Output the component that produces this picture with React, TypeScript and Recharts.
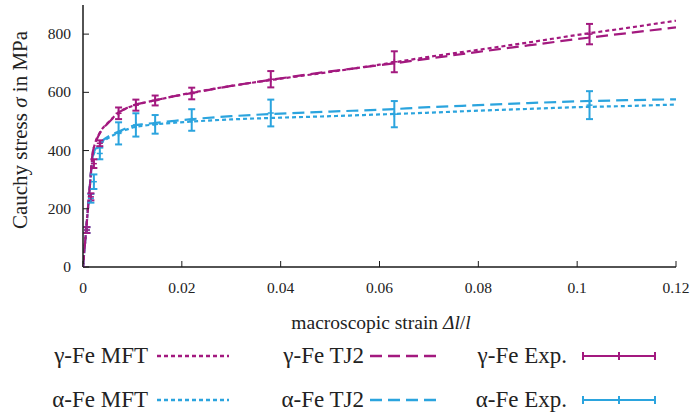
import React from "react";
import { ComposedChart, Line, Scatter, ErrorBar, XAxis, YAxis } from "recharts";

// simulated curves (strain grid shared by all four)
const strain = [
  0, 0.0005, 0.001, 0.0015, 0.0019, 0.0025, 0.0032, 0.004, 0.005, 0.006, 0.007, 0.0085,
  0.0103, 0.0125, 0.0147, 0.018, 0.0215, 0.03, 0.04, 0.05, 0.06, 0.07, 0.08, 0.09, 0.1,
  0.11, 0.12,
];
const gammaMFT = [
  0, 100, 200, 300, 380, 428, 455, 477, 495, 512, 528, 543, 555, 565, 573, 585, 597, 622,
  647, 670, 695, 722, 746, 771, 797, 821, 846,
];
const gammaTJ2 = [
  0, 100, 200, 300, 385, 425, 453, 475, 493, 510, 528, 543, 556, 565, 573, 585, 596, 622,
  648, 672, 693, 716, 739, 761, 783, 803, 823,
];
const alphaMFT = [
  0, 100, 200, 300, 370, 400, 415, 430, 442, 452, 460, 470, 480, 486, 490, 495, 499, 507,
  513, 518, 524, 530, 537, 543, 549, 553, 558,
];
const alphaTJ2 = [
  0, 100, 200, 300, 375, 405, 420, 435, 447, 456, 464, 475, 486, 491, 495, 501, 507, 518,
  527, 534, 540, 549, 556, 563, 569, 573, 576,
];

// experiments
const expStrain = [0, 0.0008, 0.0016, 0.0022, 0.0034, 0.0072, 0.0107, 0.0146, 0.022, 0.038, 0.063, 0.1025];
const gammaExp = [0, 127, 241, 355, 425, 528, 556, 572, 596, 645, 705, 800];
const gammaErr = [0, 10, 12, 15, 10, 20, 19, 17, 20, 28, 36, 35];
const alphaExp = [0, 127, 236, 293, 390, 459, 488, 490, 505, 529, 525, 556];
const alphaErr = [0, 10, 15, 25, 20, 38, 40, 32, 37, 46, 45, 48];

const xTicks = [0, 0.02, 0.04, 0.06, 0.08, 0.1, 0.12];
const yTicks = [0, 200, 400, 600, 800];

const W = 691;
const H = 414;
const LEFT = 83;
const RIGHT = 676;
const TOP = 5;
const BOTTOM = 267;

const PURPLE = "#a3197f";
const BLUE = "#2ba4de";
const AXIS = "#1a1a1a";
const FONT = "Liberation Serif";

const DOTTED = "4 3";
const DASHED = "12 6";

const curve = (ys: number[]) => strain.map((x, i) => ({ x, y: ys[i] }));
const exp = (ys: number[], es: number[]) =>
  expStrain.map((x, i) => ({ x, y: ys[i], err: es[i] }));

const BottomTick = (p: any) => (
  <g>
    <line x1={p.x} x2={p.x} y1={BOTTOM} y2={BOTTOM - 6} stroke={AXIS} />
    <text x={p.x} y={BOTTOM + 26} textAnchor="middle" fontFamily={FONT} fontSize={15.5} fill="#222">
      {p.payload.value}
    </text>
  </g>
);
const TopTick = (p: any) => (
  <line x1={p.x} x2={p.x} y1={TOP} y2={TOP + 6} stroke={AXIS} />
);
const LeftTick = (p: any) => (
  <g>
    <line x1={LEFT} x2={LEFT + 6} y1={p.y} y2={p.y} stroke={AXIS} />
    <text x={LEFT - 12} y={p.y + 5} textAnchor="end" fontFamily={FONT} fontSize={15.5} fill="#222">
      {p.payload.value}
    </text>
  </g>
);
const RightTick = (p: any) => (
  <line x1={RIGHT} x2={RIGHT - 6} y1={p.y} y2={p.y} stroke={AXIS} />
);

const plus = (color: string) => (p: any) => (
  <g stroke={color} strokeWidth={1.5}>
    <line x1={p.cx - 3} x2={p.cx + 3} y1={p.cy} y2={p.cy} />
    <line x1={p.cx} x2={p.cx} y1={p.cy - 3} y2={p.cy + 3} />
  </g>
);

function Sample({ kind, color }: { kind: string; color: string }) {
  return (
    <svg width={76} height={12} style={{ display: "block" }}>
      {kind === "bar" ? (
        <g stroke={color} strokeWidth={2}>
          <line x1={1} x2={73} y1={6} y2={6} />
          <line x1={1} x2={1} y1={2} y2={10} />
          <line x1={37} x2={37} y1={2} y2={10} />
          <line x1={73} x2={73} y1={2} y2={10} />
        </g>
      ) : (
        <line
          x1={0}
          x2={72}
          y1={6}
          y2={6}
          stroke={color}
          strokeWidth={2.5}
          strokeDasharray={kind === "dot" ? DOTTED : DASHED}
        />
      )}
    </svg>
  );
}

const legendCols = [
  { textEnd: 148, sample: 157, kind: "dot", label: "MFT" },
  { textEnd: 364, sample: 370, kind: "dash", label: "TJ2" },
  { textEnd: 567, sample: 582, kind: "bar", label: "Exp." },
];
const legendRows = [
  { y: 356, name: "γ-Fe", color: PURPLE },
  { y: 400, name: "α-Fe", color: BLUE },
];

export default function App() {
  return (
    <div
      style={{
        position: "absolute",
        left: 0,
        top: 0,
        width: W,
        height: H,
        background: "#fff",
        fontFamily: FONT,
        color: "#222",
      }}
    >
      <ComposedChart
        width={W}
        height={H}
        margin={{ top: TOP, right: W - RIGHT, bottom: H - BOTTOM - 30, left: LEFT - 40 }}
      >
        <XAxis
          dataKey="x"
          type="number"
          domain={[0, 0.12]}
          ticks={xTicks}
          interval={0}
          allowDataOverflow
          tickSize={0}
          tick={BottomTick}
          height={30}
          axisLine={{ stroke: AXIS, strokeWidth: 1.5 }}
        />
        <XAxis
          xAxisId="top"
          orientation="top"
          dataKey="x"
          type="number"
          domain={[0, 0.12]}
          ticks={xTicks}
          interval={0}
          allowDataOverflow
          tickSize={0}
          tick={TopTick}
          height={0}
          axisLine={{ stroke: AXIS, strokeWidth: 1.5 }}
        />
        <YAxis
          type="number"
          domain={[0, 900]}
          ticks={yTicks}
          interval={0}
          allowDataOverflow
          tickSize={0}
          tick={LeftTick}
          width={40}
          axisLine={{ stroke: AXIS, strokeWidth: 1.5 }}
        />
        <YAxis
          yAxisId="right"
          orientation="right"
          type="number"
          domain={[0, 900]}
          ticks={yTicks}
          interval={0}
          allowDataOverflow
          tickSize={0}
          tick={RightTick}
          width={0}
          axisLine={{ stroke: AXIS, strokeWidth: 1.5 }}
        />

        <Line data={curve(alphaMFT)} dataKey="y" type="monotone" stroke={BLUE} strokeWidth={2.2}
          strokeDasharray={DOTTED} dot={false} isAnimationActive={false} />
        <Line data={curve(alphaTJ2)} dataKey="y" type="monotone" stroke={BLUE} strokeWidth={2.2}
          strokeDasharray={DASHED} dot={false} isAnimationActive={false} />
        <Line data={curve(gammaMFT)} dataKey="y" type="monotone" stroke={PURPLE} strokeWidth={2.2}
          strokeDasharray={DOTTED} dot={false} isAnimationActive={false} />
        <Line data={curve(gammaTJ2)} dataKey="y" type="monotone" stroke={PURPLE} strokeWidth={2.2}
          strokeDasharray={DASHED} dot={false} isAnimationActive={false} />

        <Scatter data={exp(alphaExp, alphaErr)} dataKey="y" fill={BLUE} shape={plus(BLUE)}
          isAnimationActive={false}>
          <ErrorBar dataKey="err" direction="y" width={3.5} stroke={BLUE} strokeWidth={2} />
        </Scatter>
        <Scatter data={exp(gammaExp, gammaErr)} dataKey="y" fill={PURPLE} shape={plus(PURPLE)}
          isAnimationActive={false}>
          <ErrorBar dataKey="err" direction="y" width={3.5} stroke={PURPLE} strokeWidth={2} />
        </Scatter>
      </ComposedChart>

      <div
        style={{
          position: "absolute",
          left: 20,
          top: 130,
          transform: "translate(-50%, -50%) rotate(-90deg)",
          whiteSpace: "nowrap",
          fontSize: 21,
        }}
      >
        Cauchy stress <i>σ</i> in MPa
      </div>
      <div
        style={{
          position: "absolute",
          left: 381,
          top: 323,
          transform: "translate(-50%, -50%)",
          whiteSpace: "nowrap",
          fontSize: 19.5,
        }}
      >
        macroscopic strain <i>Δl</i>/<i>l</i>
      </div>

      {legendRows.map((r) =>
        legendCols.map((c) => (
          <React.Fragment key={r.name + c.label}>
            <div
              style={{
                position: "absolute",
                right: W - c.textEnd,
                top: r.y - 14,
                whiteSpace: "nowrap",
                fontSize: 23,
                lineHeight: "28px",
              }}
            >
              {r.name} {c.label}
            </div>
            <div style={{ position: "absolute", left: c.sample, top: r.y - 6 }}>
              <Sample kind={c.kind} color={r.color} />
            </div>
          </React.Fragment>
        ))
      )}
    </div>
  );
}
